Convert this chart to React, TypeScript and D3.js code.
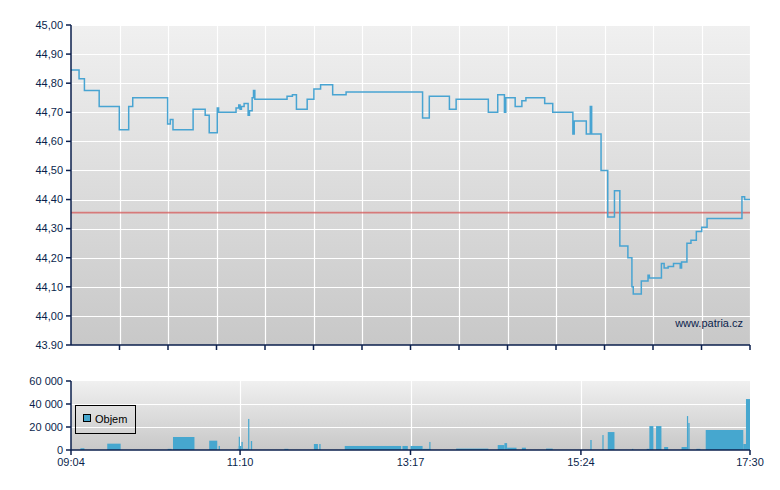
import React, { useEffect } from "react";
import * as d3 from "d3";

// price steps (time of change, new price)
const priceTimes = [
  "09:04", "09:10", "09:14", "09:25", "09:40", "09:47", "09:50", "10:16", "10:18", "10:20",
  "10:35", "10:44", "10:47", "10:53", "10:54", "11:07", "11:09", "11:10", "11:11", "11:13",
  "11:16", "11:17", "11:19", "11:20", "11:21", "11:45", "11:49", "11:52", "12:00", "12:05",
  "12:10", "12:19", "12:29", "13:26", "13:31", "13:46", "13:51", "14:15", "14:22", "14:27",
  "14:28", "14:35", "14:40", "14:43", "14:57", "15:03", "15:18", "15:19", "15:28", "15:31",
  "15:32", "15:39", "15:44", "15:49", "15:53", "15:59", "16:02", "16:03", "16:09", "16:14",
  "16:15", "16:24", "16:26", "16:29", "16:33", "16:38", "16:39", "16:43", "16:46", "16:50",
  "16:54", "16:58", "17:24", "17:26", "17:30",
];
const prices = [
  44.845, 44.815, 44.775, 44.72, 44.64, 44.72, 44.75, 44.66, 44.675, 44.64,
  44.71, 44.69, 44.63, 44.715, 44.7, 44.715, 44.725, 44.71, 44.72, 44.73,
  44.69, 44.705, 44.75, 44.775, 44.745, 44.755, 44.76, 44.71, 44.745, 44.78,
  44.795, 44.76, 44.77, 44.68, 44.755, 44.71, 44.745, 44.7, 44.76, 44.7,
  44.75, 44.72, 44.74, 44.75, 44.73, 44.7, 44.625, 44.67, 44.625, 44.72,
  44.625, 44.5, 44.34, 44.43, 44.24, 44.2, 44.1, 44.075, 44.12, 44.14,
  44.13, 44.18, 44.165, 44.17, 44.18, 44.165, 44.185, 44.25, 44.26, 44.29,
  44.305, 44.335, 44.41, 44.4, 44.4,
];
const previousClose = 44.355;

// volume bars: [from, to, volume]
const volumeBars: [string, string, number][] = [
  ["09:11", "09:14", 1500],
  ["09:31", "09:41", 5500],
  ["10:16", "10:19", 1000],
  ["10:20", "10:36", 11300],
  ["10:47", "10:53", 8100],
  ["10:54", "10:55", 3500],
  ["11:08", "11:09", 1000],
  ["11:09", "11:09", 11500],
  ["11:09", "11:11", 3500],
  ["11:11", "11:12", 7000],
  ["11:12", "11:16", 1000],
  ["11:16", "11:16", 27000],
  ["11:18", "11:19", 7800],
  ["11:43", "11:46", 1000],
  ["12:05", "12:08", 5200],
  ["12:09", "12:10", 5200],
  ["12:28", "13:10", 3500],
  ["13:11", "13:15", 3500],
  ["13:17", "13:26", 3500],
  ["13:26", "13:32", 1000],
  ["13:31", "13:31", 7000],
  ["13:51", "14:15", 1200],
  ["14:22", "14:27", 4300],
  ["14:27", "14:29", 6000],
  ["14:29", "14:36", 2000],
  ["14:40", "14:43", 2000],
  ["14:58", "15:03", 1200],
  ["15:31", "15:32", 8700],
  ["15:40", "15:40", 13000],
  ["15:44", "15:49", 15600],
  ["16:02", "16:03", 1000],
  ["16:13", "16:15", 1000],
  ["16:15", "16:18", 20800],
  ["16:20", "16:24", 20800],
  ["16:26", "16:29", 2600],
  ["16:39", "16:43", 2600],
  ["16:43", "16:43", 29500],
  ["16:44", "16:45", 23500],
  ["16:50", "16:53", 1000],
  ["16:57", "17:25", 17400],
  ["17:25", "17:27", 5200],
  ["17:27", "17:30", 44300],
];

const priceTickValues = [45, 44.9, 44.8, 44.7, 44.6, 44.5, 44.4, 44.3, 44.2, 44.1, 44.0, 43.9];
const priceTickLabels = ["45,00", "44,90", "44,80", "44,70", "44,60", "44,50", "44,40", "44,30", "44,20", "44,10", "44,00", "43.90"];
const volTickValues = [0, 20000, 40000, 60000];
const volTickLabels = ["0", "20 000", "40 000", "60 000"];
const timeLabels = ["09:04", "11:10", "13:17", "15:24", "17:30"];

const W = 780;
const H = 490;
const left = 71;
const right = 750;
const navy = "#0b1f4d";
const font = "'Liberation Sans', Arial, sans-serif";

const parse = d3.timeParse("%H:%M");

const App = () => {
  useEffect(() => {
    document.body.style.margin = "0";
  }, []);

  const t0 = parse(timeLabels[0])!;
  const t1 = parse(timeLabels[timeLabels.length - 1])!;
  const x = d3.scaleTime().domain([t0, t1]).range([left, right]);
  const yP = d3.scaleLinear().domain([43.9, 45]).range([345, 25]);
  const yV = d3.scaleLinear().domain([0, 60000]).range([450, 381]);

  const pts = priceTimes.map((t, i) => [parse(t)!, prices[i]] as [Date, number]);
  const line = d3
    .line<[Date, number]>()
    .x((d) => x(d[0]))
    .y((d) => yP(d[1]))
    .curve(d3.curveStepAfter);

  // 14 equal divisions on the price chart
  const grid = d3.range(1, 15).map((i) => new Date(+t0 + (i * (+t1 - +t0)) / 14));
  const crisp = (v: number) => Math.round(v) + 0.5;

  return (
    <svg width={W} height={H} style={{ display: "block", fontFamily: font }}>
      <defs>
        <linearGradient id="bg" x1="0" y1="0" x2="0" y2="1">
          <stop offset="0" stopColor="#f0f0f0" />
          <stop offset="1" stopColor="#c8c8c8" />
        </linearGradient>
      </defs>

      {/* price panel */}
      <rect x={left} y={yP(45)} width={right - left} height={yP(43.9) - yP(45)} fill="url(#bg)" />
      {priceTickValues.slice(0, -1).map((v) => (
        <line key={v} x1={left} x2={right} y1={crisp(yP(v))} y2={crisp(yP(v))} stroke="#fff" strokeWidth={1.2} />
      ))}
      {grid.map((g, i) => (
        <line key={i} x1={crisp(x(g))} x2={crisp(x(g))} y1={yP(45)} y2={yP(43.9)} stroke="#fff" strokeWidth={1.2} />
      ))}
      <line x1={left} x2={right} y1={yP(previousClose)} y2={yP(previousClose)} stroke="#d65a5a" strokeOpacity={0.75} strokeWidth={1.6} />
      <path d={line(pts) || ""} fill="none" stroke="#48a4d2" strokeWidth={1.5} />
      <text x={743} y={327} textAnchor="end" fontSize={11} fill={navy}>www.patria.cz</text>

      <line x1={left} x2={left} y1={yP(45)} y2={yP(43.9)} stroke={navy} strokeWidth={1.5} />
      <line x1={left} x2={right} y1={yP(43.9)} y2={yP(43.9)} stroke={navy} strokeWidth={1.5} />
      {priceTickValues.map((v, i) => (
        <g key={v} transform={`translate(0,${yP(v)})`}>
          <line x1={left - 5} x2={left} stroke={navy} strokeWidth={1.5} />
          <text x={left - 8} dy="0.35em" textAnchor="end" fontSize={11} fill={navy}>
            {priceTickLabels[i]}
          </text>
        </g>
      ))}
      {grid.map((g, i) => (
        <line key={i} x1={x(g)} x2={x(g)} y1={yP(43.9)} y2={yP(43.9) + 5} stroke={navy} strokeWidth={1.5} />
      ))}

      {/* volume panel */}
      <rect x={left} y={yV(60000)} width={right - left} height={yV(0) - yV(60000)} fill="url(#bg)" />
      {volTickValues.slice(1, -1).map((v) => (
        <line key={v} x1={left} x2={right} y1={crisp(yV(v))} y2={crisp(yV(v))} stroke="#fff" strokeWidth={1.2} />
      ))}
      {timeLabels.slice(1, -1).map((t) => (
        <line key={t} x1={crisp(x(parse(t)!))} x2={crisp(x(parse(t)!))} y1={yV(60000)} y2={yV(0)} stroke="#fff" strokeWidth={1.2} />
      ))}
      {volumeBars.map(([a, b, v], i) => {
        const xa = x(parse(a)!);
        const xb = x(parse(b)!);
        return (
          <rect key={i} x={xa} y={yV(v)} width={Math.max(1.2, xb - xa)} height={yV(0) - yV(v)} fill="#46a7cf" />
        );
      })}

      <g>
        <rect x={75.5} y={405.5} width={60} height={28} fill="none" stroke="#000" />
        <rect x={83.5} y={414.5} width={7} height={7} fill="#46a7cf" stroke="#000" />
        <text x={95} y={423} fontSize={11} fill="#000">Objem</text>
      </g>

      <line x1={left} x2={left} y1={yV(60000)} y2={yV(0)} stroke={navy} strokeWidth={1.5} />
      <line x1={left} x2={right} y1={yV(0)} y2={yV(0)} stroke={navy} strokeWidth={1.5} />
      {volTickValues.map((v, i) => (
        <g key={v} transform={`translate(0,${yV(v)})`}>
          <line x1={left - 5} x2={left} stroke={navy} strokeWidth={1.5} />
          <text x={left - 8} dy="0.35em" textAnchor="end" fontSize={11} fill={navy}>
            {volTickLabels[i]}
          </text>
        </g>
      ))}
      {timeLabels.map((t) => (
        <g key={t} transform={`translate(${x(parse(t)!)},${yV(0)})`}>
          <line y1={0} y2={5} stroke={navy} strokeWidth={1.5} />
          <text y={16} textAnchor="middle" fontSize={11} fill={navy}>
            {t}
          </text>
        </g>
      ))}
    </svg>
  );
};

export default App;
